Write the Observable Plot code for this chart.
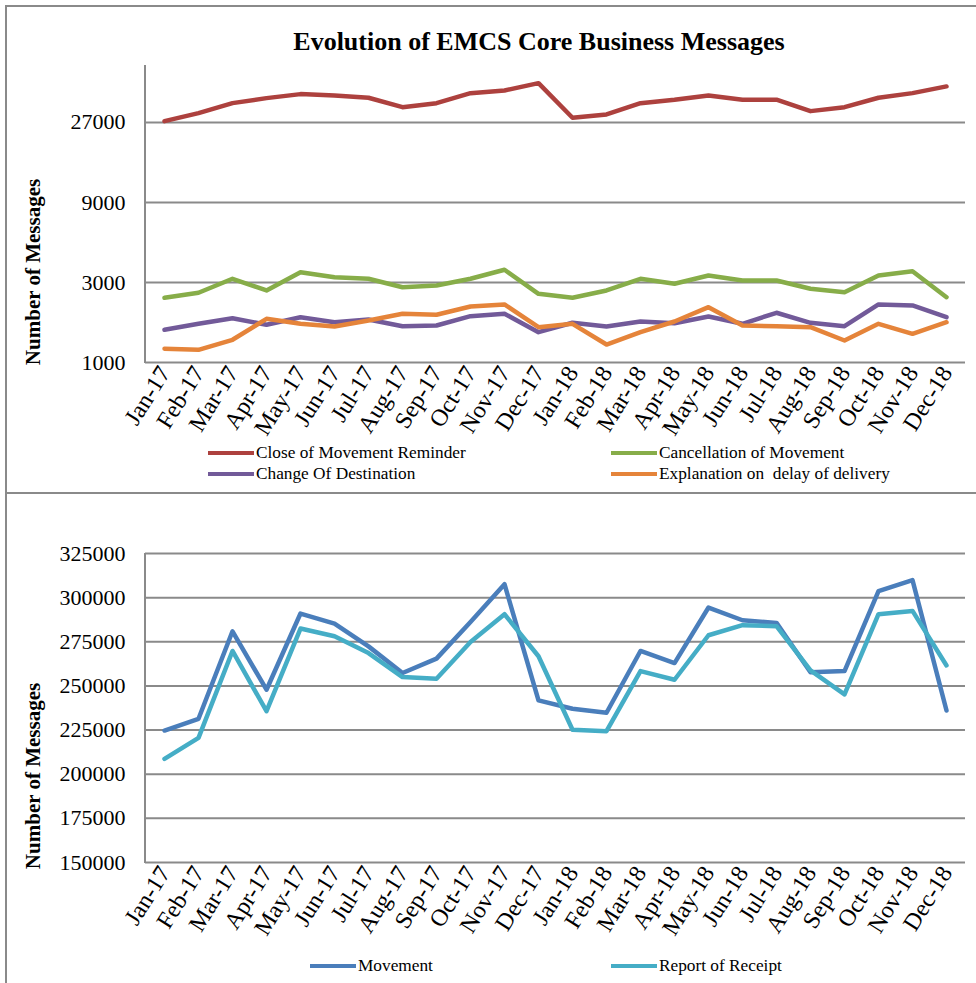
<!DOCTYPE html>
<html>
<head>
<meta charset="utf-8">
<script src="https://cdn.jsdelivr.net/npm/d3@7/dist/d3.min.js"></script>
<script src="https://cdn.jsdelivr.net/npm/@observablehq/plot@0.6/dist/plot.umd.min.js"></script>
<style>
  html, body { margin: 0; padding: 0; background: #fff; }
  #wrap { position: relative; width: 976px; height: 983px; overflow: hidden; font-family: "Liberation Serif", "Times New Roman", serif; color: #000; }
  .abs { position: absolute; }
  .hline { position: absolute; height: 2px; background: #8a8a8a; }
  .vline { position: absolute; width: 2px; background: #8a8a8a; }
  .title { position: absolute; left: 0; top: 27px; width: 1078px; text-align: center; font-weight: bold; font-size: 26px; line-height: 30px; }
  .ylab { position: absolute; font-weight: bold; font-size: 21px; white-space: nowrap; transform: translate(-50%, -50%) rotate(-90deg); }
  .leg { position: absolute; font-size: 17.3px; white-space: pre; display: flex; align-items: center; }
  .sw { display: inline-block; width: 46px; height: 4px; margin-right: 2px; }
  #err { position: absolute; left: 200px; top: 200px; color: red; font-size: 14px; white-space: pre-wrap; width: 700px; }
</style>
</head>
<body>
<div id="wrap">
  <div class="vline" style="left:5px; top:5px; height:978px;"></div>
  <div class="hline" style="left:5px; top:5px; width:971px;"></div>
  <div class="hline" style="left:5px; top:492px; width:971px;"></div>
  <div class="title">Evolution of EMCS Core Business Messages</div>
  <div class="ylab" style="left:33px; top:272px;">Number of Messages</div>
  <div class="ylab" style="left:33px; top:776px;">Number of Messages</div>
  <div id="top" class="abs" style="left:0; top:0;"></div>
  <div id="bot" class="abs" style="left:0; top:493px;"></div>
  <div id="legtop"></div>
  <div id="legbot"></div>
  <div id="err"></div>
</div>
<script>
const months = ["Jan-17","Feb-17","Mar-17","Apr-17","May-17","Jun-17","Jul-17","Aug-17","Sep-17","Oct-17","Nov-17","Dec-17",
                "Jan-18","Feb-18","Mar-18","Apr-18","May-18","Jun-18","Jul-18","Aug-18","Sep-18","Oct-18","Nov-18","Dec-18"];

// Top chart series (log scale)
const closeOfMovementReminder = [27480,30670,35190,37700,39830,39120,37900,33300,35190,40370,41900,46300,
                                 28800,30140,35190,36880,39120,36880,36880,31530,33300,37900,40370,44280];
const cancellationOfMovement  = [2431,2604,3156,2688,3456,3226,3156,2812,2879,3156,3572,2568,
                                 2431,2688,3156,2947,3303,3084,3084,2751,2626,3303,3503,2452];
const changeOfDestination     = [1567,1701,1837,1678,1863,1739,1805,1646,1662,1889,1952,1516,
                                 1725,1640,1756,1715,1881,1701,1979,1725,1646,2218,2188,1863];
const explanationOnDelay      = [1207,1190,1366,1822,1701,1640,1780,1952,1925,2158,2218,1624,
                                 1701,1280,1516,1756,2137,1662,1646,1624,1353,1701,1483,1739];

// Bottom chart series (linear scale)
const movement        = [224750,231400,280950,247850,291000,285300,272400,257300,265450,286200,307600,241800,
                         237100,234800,269800,262950,294400,287200,285700,257800,258400,303650,309900,236100];
const reportOfReceipt = [208700,220600,269800,235700,282500,278100,268600,255000,254100,274900,290600,266800,
                         225200,224400,258400,253500,278700,284400,283800,258800,245200,290600,292500,261600];

const topNames  = ["Close of Movement Reminder","Cancellation of Movement","Change Of Destination","Explanation on  delay of delivery"];
const topColors = ["#ad413e","#87ad49","#725a99","#e5843a"];
const botNames  = ["Movement","Report of Receipt"];
const botColors = ["#4a7ebb","#45adc6"];

const topTicks = [1000,3000,9000,27000];
const botTicks = [150000,175000,200000,225000,250000,275000,300000,325000];

const topSeries = [closeOfMovementReminder, cancellationOfMovement, changeOfDestination, explanationOnDelay];
const botSeries = [movement, reportOfReceipt];

const toRows = (names, series) => names.flatMap((n, i) => series[i].map((v, j) => ({series: n, month: months[j], value: v})));
const topRows = toRows(topNames, topSeries);
const botRows = toRows(botNames, botSeries);

const fontStyle = {fontFamily: "'Liberation Serif', 'Times New Roman', serif", fontSize: "22px", color: "#000", background: "transparent", overflow: "visible"};
const xLabelOpts = {tickSize: 0, tickRotate: -58, tickPadding: 6, fontSize: 24, label: null};

try {
  const topPlot = Plot.plot({
    width: 976, height: 493,
    marginLeft: 145, marginRight: 11, marginTop: 65, marginBottom: 131,
    style: fontStyle,
    x: {type: "point", domain: months, padding: 0.5, label: null},
    y: {type: "log", base: 3, domain: [1000, 59000], label: null},
    color: {domain: topNames, range: topColors},
    marks: [
      Plot.ruleY(topTicks, {stroke: "#8a8a8a", strokeWidth: 2}),
      Plot.axisY(topTicks, {tickSize: 0, tickPadding: 20, fontSize: 22, tickFormat: d => String(d), label: null}),
      Plot.axisX(xLabelOpts),
      Plot.lineY(topRows, {x: "month", y: "value", z: "series", stroke: "series", strokeWidth: 4.5, strokeLinejoin: "round", strokeLinecap: "round"})
    ]
  });
  document.getElementById("top").appendChild(topPlot);

  const botPlot = Plot.plot({
    width: 976, height: 490,
    marginLeft: 145, marginRight: 11, marginTop: 60, marginBottom: 121,
    style: fontStyle,
    x: {type: "point", domain: months, padding: 0.5, label: null},
    y: {type: "linear", domain: [150000, 325000], label: null},
    color: {domain: botNames, range: botColors},
    marks: [
      Plot.ruleY(botTicks, {stroke: "#8a8a8a", strokeWidth: 2}),
      Plot.axisY(botTicks, {tickSize: 0, tickPadding: 20, fontSize: 22, tickFormat: d => String(d), label: null}),
      Plot.axisX(xLabelOpts),
      Plot.lineY(botRows, {x: "month", y: "value", z: "series", stroke: "series", strokeWidth: 4.5, strokeLinejoin: "round", strokeLinecap: "round"})
    ]
  });
  document.getElementById("bot").appendChild(botPlot);
} catch (e) {
  document.getElementById("err").textContent = String(e && e.stack || e);
}

// y-axis lines (left edge of each plot area)
[[65, 362], [553, 862]].forEach(([y0, y1]) => {
  const d = document.createElement("div");
  d.className = "vline";
  d.style.left = "144px"; d.style.top = y0 + "px"; d.style.height = (y1 - y0 + 1) + "px";
  document.getElementById("wrap").appendChild(d);
});

// Legends
function addLegend(containerId, items) {
  const c = document.getElementById(containerId);
  items.forEach(([name, color, x, y]) => {
    const d = document.createElement("div");
    d.className = "leg";
    d.style.left = x + "px";
    d.style.top = y + "px";
    const s = document.createElement("span");
    s.className = "sw";
    s.style.background = color;
    d.appendChild(s);
    d.appendChild(document.createTextNode(name));
    c.appendChild(d);
  });
}
addLegend("legtop", [
  [topNames[0], topColors[0], 208, 443],
  [topNames[1], topColors[1], 611, 443],
  [topNames[2], topColors[2], 208, 464],
  [topNames[3], topColors[3], 611, 464]
]);
addLegend("legbot", [
  [botNames[0], botColors[0], 310, 956],
  [botNames[1], botColors[1], 611, 956]
]);
</script>
</body>
</html>
